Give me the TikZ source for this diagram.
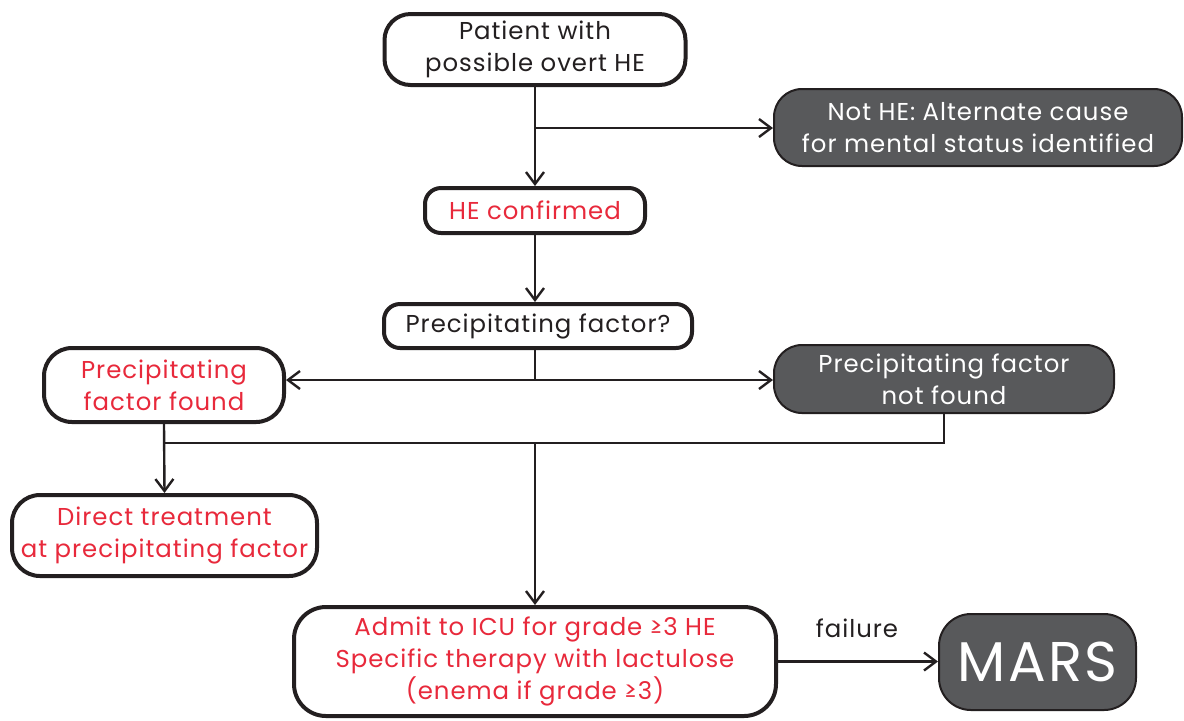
\documentclass[tikz,border=0pt]{standalone}
\usepackage{fontspec}
\setmainfont{Poppins}[LetterSpace=4]
\usetikzlibrary{arrows.meta}
\definecolor{ink}{HTML}{231F20}
\definecolor{dark}{HTML}{58595B}
\definecolor{hered}{HTML}{E8293B}
\newcommand{\fsz}{\fontsize{12.2}{16}\selectfont}
\begin{document}
\begin{tikzpicture}[x=0.5pt,y=-0.5pt,
  wbox/.style={draw=ink, line width=2pt, fill=white, align=center, inner sep=0pt, font=\fsz, text=ink},
  dbox/.style={draw=ink, line width=1pt, fill=dark, text=white, align=center, inner sep=0pt, font=\fsz},
  redt/.style={text=hered},
  link/.style={draw=ink, line width=1.2pt},
  con/.style={link, -{Straight Barb[length=6pt,width=9pt,line width=1.2pt]}},
  lab/.style={font=\fsz, text=ink, inner sep=0pt}]
\path[use as bounding box] (0,0) rectangle (1184,720);
\node[wbox, minimum width=150.5pt, minimum height=35.5pt, rounded corners=13pt] (p) at (535,49.5) {Patient with\\possible overt HE};
\node[dbox, minimum width=204pt, minimum height=38.5pt, rounded corners=14pt] (n) at (978,127.5) {Not HE: Alternate cause\\for mental status identified};
\node[wbox, redt, minimum width=110pt, minimum height=22.5pt, rounded corners=8pt] (h) at (535,210.5) {HE confirmed};
\node[wbox, minimum width=154pt, minimum height=22pt, rounded corners=8pt] (q) at (538,326) {Precipitating factor?};
\node[wbox, redt, minimum width=120pt, minimum height=37pt, rounded corners=14pt] (f) at (164,385) {Precipitating\\factor found};
\node[dbox, minimum width=170pt, minimum height=34pt, rounded corners=14pt] (nf) at (944,379) {Precipitating factor\\not found};
\node[wbox, redt, minimum width=152.5pt, minimum height=40.5pt, rounded corners=14pt] (d) at (164.5,535.5) {Direct treatment\\at precipitating factor};
\node[wbox, redt, minimum width=241pt, minimum height=54.5pt, rounded corners=16pt] (a) at (535,661.5) {Admit to ICU for grade ≥3 HE\\Specific therapy with lactulose\\(enema if grade ≥3)};
\node[dbox, minimum width=98.5pt, minimum height=48pt, rounded corners=16pt, font=\fontsize{28}{32}\selectfont] (m) at (1037.5,662) {MARS};
\coordinate (b1) at (535,128);
\coordinate (b2) at (535,380);
\coordinate (b3) at (164,443);
\coordinate (b4) at (535,443);
\draw[con] (p.south) -- (h.north);
\draw[con] (b1) -- (b1 -| n.west);
\draw[con] (h.south) -- (h.south |- q.north);
\draw[link] (h.south |- q.south) -- (b2);
\draw[con] (b2) -- (b2 -| f.east);
\draw[con] (b2) -- (b2 -| nf.west);
\draw[con] (f.south) -- (d.north);
\draw[link] (b3) -- (b3 -| nf.south) -- (nf.south);
\draw[con] (b4) -- (a.north);
\draw[con] (a.east) -- (a.east -| m.west);
\node[lab] (fl) at (857,628) {failure};
\end{tikzpicture}
\end{document}
